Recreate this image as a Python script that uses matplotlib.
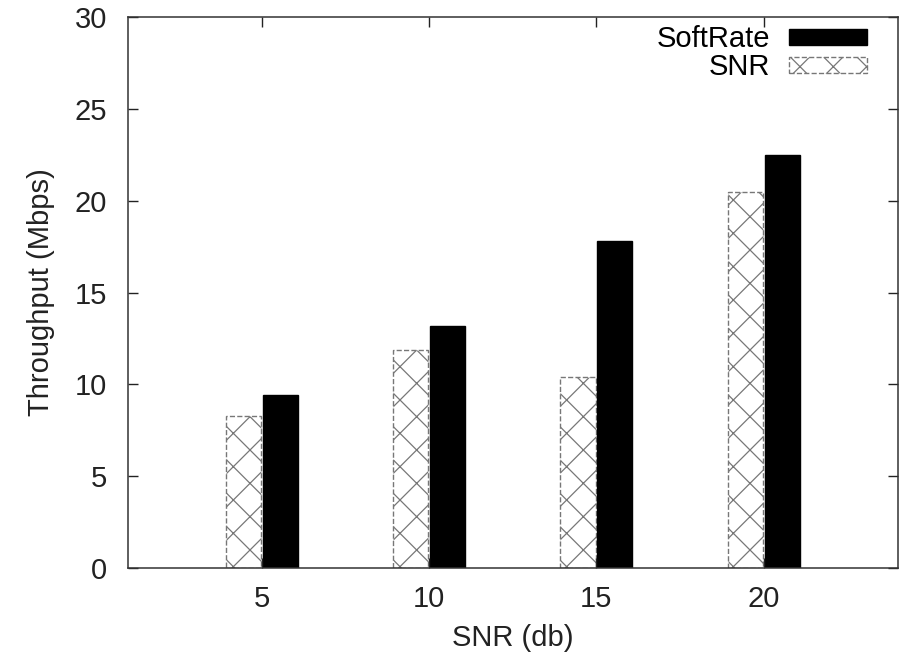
import matplotlib.pyplot as plt
import numpy as np

# data
snr_levels = ['5', '10', '15', '20']
softrate = [9.4, 13.2, 17.8, 22.5]
snr_based = [8.3, 11.9, 10.4, 20.5]

plt.rcParams['font.family'] = ['Liberation Sans', 'DejaVu Sans']
plt.rcParams['hatch.color'] = '#8a8a8a'
plt.rcParams['hatch.linewidth'] = 0.9

fig = plt.figure(figsize=(8.99, 6.56), dpi=100)
ax = fig.add_axes([0.1424, 0.134, 0.856, 0.84])

x = np.arange(len(snr_levels))
w = 0.21
ax.bar(x - 0.11, snr_based, w, facecolor='white', edgecolor='#777777',
       hatch='x', linestyle='--', linewidth=1.0, label='SNR')
ax.bar(x + 0.11, softrate, w, color='black', edgecolor='black',
       linewidth=1.0, label='SoftRate')

ax.set_xlim(-0.8, 3.8)
ax.set_ylim(0, 30)
ax.set_xticks(x)
ax.set_xticklabels(snr_levels)
ax.set_yticks(range(0, 31, 5))
ax.tick_params(direction='in', length=7, width=1, top=True, right=True,
               labelsize=21, colors='#222222')
ax.tick_params(axis='y', pad=15)
ax.tick_params(axis='x', pad=12)
for s in ax.spines.values():
    s.set_linewidth(1.1)
    s.set_color('#333333')

ax.set_xlabel('SNR (db)', fontsize=21, color='#222222', labelpad=8)
ax.set_ylabel('Throughput (Mbps)', fontsize=21, color='#222222', labelpad=14)

handles, labels = ax.get_legend_handles_labels()
ax.legend(handles[::-1], labels[::-1], loc='upper right', frameon=False,
          markerfirst=False, fontsize=21, handlelength=2.7, handleheight=0.5,
          handletextpad=0.65, labelspacing=0.0, borderaxespad=0.0,
          bbox_to_anchor=(0.976, 1.006))

plt.savefig('out.png', dpi=100)
